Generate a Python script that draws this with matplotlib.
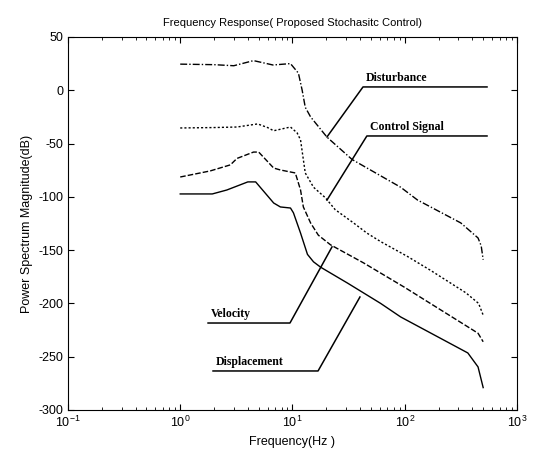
import numpy as np
import matplotlib
matplotlib.use("Agg")
import matplotlib.pyplot as plt

plt.rcParams["axes.unicode_minus"] = False

# values (frequency in Hz, magnitude in dB)
dist_f = [1, 2, 3, 4.5, 6.7, 9.6, 11.3, 12.2, 13, 14.5, 20.3, 34, 92, 130, 316, 450, 480, 500]
dist_db = [24.5, 24, 23, 27.8, 23.7, 25, 16, 0, -16, -25, -44, -65, -91, -103, -124.5, -138.6, -146, -159]

ctrl_f = [1, 2, 3.2, 4.9, 6, 6.8, 9.6, 11, 11.8, 13, 15.4, 19.7, 24, 35, 46, 61, 106, 170, 350, 455, 500]
ctrl_db = [-35.4, -35, -34.5, -31.6, -35, -38, -34.5, -40, -46.6, -77.6, -91, -101, -112, -124.5,
           -134, -142, -156, -169, -190, -200, -211]

vel_f = [1, 1.85, 2.8, 3.2, 4.5, 5, 6.8, 7.8, 9.6, 10.6, 11.8, 12.5, 14.5, 17, 21.8, 43, 100, 365, 450, 500]
vel_db = [-81.4, -75.7, -70, -64, -58, -58, -73, -74.8, -76.7, -77.6, -93.6, -109.5, -124.5, -136, -145,
          -162, -185, -222, -228, -236]

disp_f = [1, 1.93, 2.6, 4, 4.7, 6.8, 7.8, 9.6, 10.2, 11.8, 13.6, 15.4, 17.8, 31, 61, 92, 365, 450, 500]
disp_db = [-97.3, -97.3, -93.6, -86, -86, -105.8, -109.5, -110.5, -115, -134, -154, -161, -166, -181,
           -200, -212.7, -246.5, -259.6, -279]

# label name, point on curve, elbow, end of underline
labels = ["Disturbance", "Control Signal", "Velocity", "Displacement"]
lab_curve = [(20.3, -43.8), (20.3, -103), (22.5, -147), (39.9, -194)]
lab_elbow = [(42.5, 3.1), (46, -42.9), (9.5, -218.4), (16.9, -263.4)]
lab_end = [(541, 3.1), (541, -42.9), (1.77, -218.4), (1.96, -263.4)]

fig = plt.figure(figsize=(5.34, 4.62), dpi=100)
ax = fig.add_axes([0.1273, 0.1126, 0.8408, 0.8074])

lw = 1.0
ax.semilogx(dist_f, dist_db, color="black", lw=lw, linestyle=(0, (5, 1.5, 1, 1.5)))
ax.semilogx(ctrl_f, ctrl_db, color="black", lw=lw, linestyle=(0, (1.5, 1.5)))
ax.semilogx(vel_f, vel_db, color="black", lw=lw, linestyle=(0, (4, 1.5)))
ax.semilogx(disp_f, disp_db, color="black", lw=lw, linestyle="-")

for name, c, e, end in zip(labels, lab_curve, lab_elbow, lab_end):
    ax.plot([c[0], e[0], end[0]], [c[1], e[1], end[1]], color="black", lw=1.1)
    x0 = min(e[0], end[0])
    ax.text(x0 * 1.06, e[1] + 3, name, fontsize=8.5, fontweight="bold",
            family="Liberation Serif", ha="left", va="bottom")

ax.set_xlim(0.1, 1000)
ax.set_ylim(-300, 50)
ax.set_yticks(np.arange(-300, 51, 50))
ax.tick_params(which="both", direction="in", top=True, right=True, labelsize=9)
ax.tick_params(which="major", length=4)
ax.tick_params(which="minor", length=2)
for lab in ax.get_xticklabels() + ax.get_yticklabels():
    lab.set_family("Liberation Sans")

ax.set_title("Frequency Response( Proposed Stochasitc Control)", fontsize=8,
             family="Liberation Sans", pad=8)
ax.set_xlabel("Frequency(Hz )", fontsize=9, family="Liberation Sans")
ax.set_ylabel("Power Spectrum Magnitude(dB)", fontsize=9, family="Liberation Sans")

fig.savefig("out.png", dpi=100)
